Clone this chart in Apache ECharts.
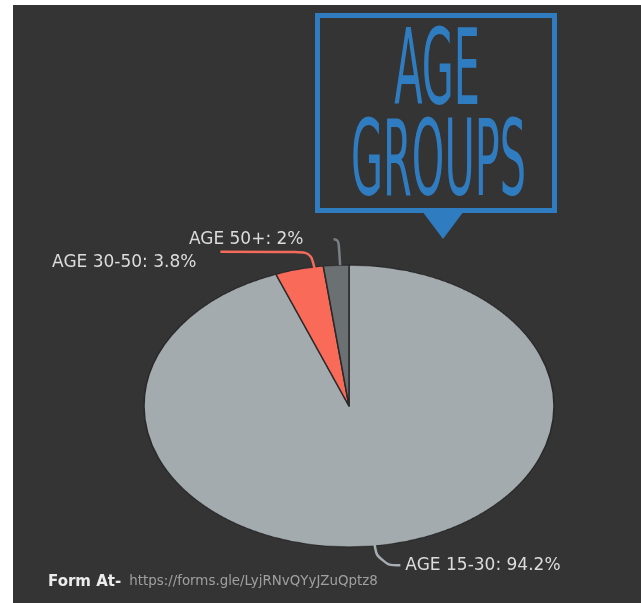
<!DOCTYPE html>
<html>
<head>
<meta charset="utf-8">
<script src="https://cdn.jsdelivr.net/npm/echarts@6/dist/echarts.min.js"></script>
<style>
  html, body { margin:0; padding:0; background:#ffffff; width:641px; height:603px; overflow:hidden; }
  #wrap { position:absolute; left:13px; top:5px; width:628px; height:598px; background:#343434; overflow:hidden; }
  #pie { position:absolute; left:0; top:0; width:628px; height:760px; transform-origin:336px 401px; transform:scaleY(0.688); }
  #main { position:absolute; left:0; top:0; width:628px; height:598px; }
</style>
</head>
<body>
<div id="wrap">
  <div id="pie"></div>
  <div id="main"></div>
</div>
<script>
// ---- data ----
const categories = ['AGE 15-30', 'AGE 30-50', 'AGE 50+'];
const values = [94.2, 3.8, 2];
const titleLines = ['AGE', 'GROUPS'];
const footerLabel = 'Form At-';
const footerUrl = 'https://forms.gle/LyjRNvQYyJZuQptz8';

// ---- styles ----
const sliceColors = ['#a3abaf', '#fa6a59', '#6b7173'];
const lineColors = ['#a6aeb3', '#f26b5c', '#7a8083'];
const lineShapes = [
  { length: 21, length2: 22, smooth: 0.5 },
  { length: 18, length2: 90, smooth: 0.3 },
  { length: 26, length2: 5, smooth: 0.5 }
];
const labelPads = [[0, 0, 0, 0], [0, 19, 0, 0], [0, 25, 0, 0]];
const labelFormats = ['{b}: {c}%', '\n{b}: {c}%', '{b}: {c}%'];
const labelLineHeights = [16, 21, 16];
const blue = '#2f7cc1';
const CX = 336, CY = 401;

// ---- layer 1: slices (ellipse via vertical squash) ----
const pie = echarts.init(document.getElementById('pie'), null, { renderer: 'canvas' });
pie.setOption({
  animation: false,
  series: [{
    type: 'pie',
    center: [CX, CY],
    radius: 205,
    startAngle: 90,
    clockwise: true,
    silent: true,
    label: { show: false },
    labelLine: { show: false },
    itemStyle: { borderColor: '#2a2a2a', borderWidth: 1.5 },
    data: categories.map((c, i) => ({ name: c, value: values[i], itemStyle: { color: sliceColors[i] } }))
  }]
});

// ---- layer 2: labels, title, footer ----
const main = echarts.init(document.getElementById('main'), null, { renderer: 'canvas' });
main.setOption({
  animation: false,
  backgroundColor: 'transparent',
  series: [{
    type: 'pie',
    center: [CX, CY],
    radius: 141,
    startAngle: 90,
    clockwise: true,
    silent: true,
    avoidLabelOverlap: false,
    labelLayout: { hideOverlap: false },
    itemStyle: { color: 'rgba(0,0,0,0)' },
    label: {
      show: true,
      position: 'outside',
      color: '#dcdcdc',
      fontFamily: 'DejaVu Sans',
      fontSize: 17,
      distanceToLabelLine: 5
    },
    data: categories.map((c, i) => ({
      name: c,
      value: values[i],
      label: { padding: labelPads[i], formatter: labelFormats[i], lineHeight: labelLineHeights[i] },
      labelLine: Object.assign({ show: true, lineStyle: { color: lineColors[i], width: 2.5 } }, lineShapes[i])
    }))
  }],
  graphic: [
    { type: 'rect', shape: { x: 304.5, y: 10.5, width: 237, height: 195 },
      style: { fill: 'none', stroke: blue, lineWidth: 5 } },
    { type: 'polygon', shape: { points: [[409, 206], [451, 206], [430, 234]] },
      style: { fill: blue } },
    { type: 'text', x: 424, y: 72, scaleY: 2.3,
      style: { text: titleLines[0], fill: blue, font: '46px "Liberation Sans Narrow", "DejaVu Sans Condensed", sans-serif',
               textAlign: 'center', textVerticalAlign: 'middle' } },
    { type: 'text', x: 425.5, y: 163, scaleY: 2.3,
      style: { text: titleLines[1], fill: blue, font: '46px "Liberation Sans Narrow", "DejaVu Sans Condensed", sans-serif',
               textAlign: 'center', textVerticalAlign: 'middle' } },
    { type: 'text', x: 35, y: 577,
      style: {
        text: '{a|' + footerLabel + '}{b|' + footerUrl + '}',
        textVerticalAlign: 'middle',
        rich: {
          a: { fontFamily: 'DejaVu Sans', fontWeight: 'bold', fontSize: 15, fill: '#ececec', color: '#ececec' },
          b: { fontFamily: 'DejaVu Sans', fontSize: 13.4, fill: '#a0a0a0', color: '#a0a0a0', padding: [0, 0, 0, 8] }
        }
      } }
  ]
});
</script>
</body>
</html>
